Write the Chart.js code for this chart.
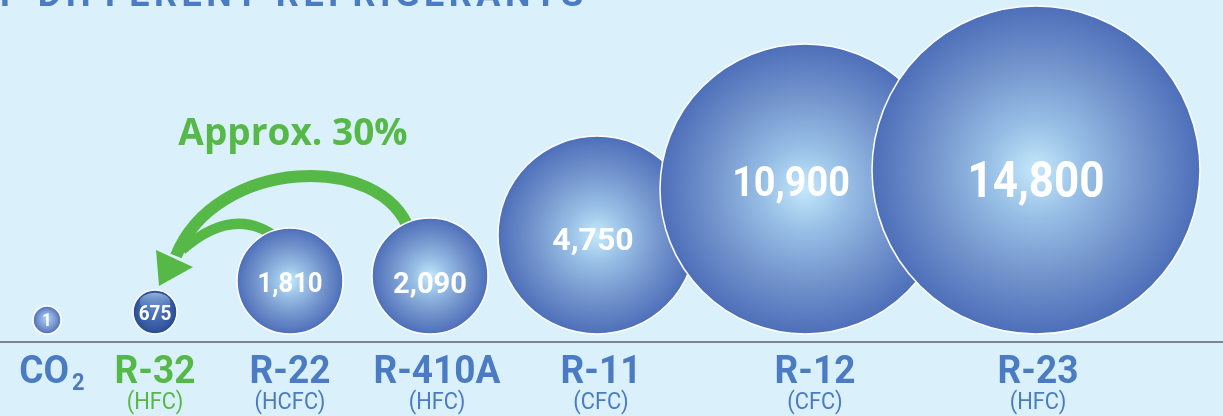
<!DOCTYPE html>
<html>
<head>
<meta charset="utf-8">
<script src="https://cdn.jsdelivr.net/npm/chart.js@4.4.1/dist/chart.umd.min.js"></script>
<style>
  html, body { margin: 0; padding: 0; background: #daf0fb; }
  #wrap { width: 1223px; height: 416px; position: relative; }
</style>
</head>
<body>
<div id="wrap"><canvas id="gwpChart"></canvas></div>
<script>
// Données
const refrigerants = ['CO₂', 'R-32', 'R-22', 'R-410A', 'R-11', 'R-12', 'R-23'];
const families = ['', '(HFC)', '(HCFC)', '(HFC)', '(CFC)', '(CFC)', '(HFC)'];
const gwp = [1, 675, 1810, 2090, 4750, 10900, 14800];
// taille des bulles (px) et place sur l'axe horizontal
const bubbleRadius = [14, 22, 53, 58, 99, 145, 164];
const slot = [47, 155, 290, 430, 597, 805, 1036];

// mise en forme des textes
const valueFontSize = [18, 21, 27, 30, 32, 42, 50];
const valueScaleX = [0.9, 0.9, 0.95, 0.97, 1.0, 0.9, 0.88];
const valueShift = [[0, 0], [0, 0], [0, 1], [0, 6], [-4, 3], [-14, -8], [0, 9]];
const nameShift = [0, 0, 0, 7, 4, 10, 2];

const BLUE = '#4a7bc3';
const GREEN = '#56b947';
const baseY = 334;

function bubbleFill(context) {
    const chart = context.chart;
    if (!chart.chartArea || context.type !== 'data') return '#5a7dc0';
    const i = context.dataIndex;
    const x = chart.scales.x.getPixelForValue(slot[i]);
    const y = chart.scales.y.getPixelForValue(bubbleRadius[i]);
    const r = bubbleRadius[i];
    const c = chart.ctx;
    let g;
    if (i === 1) {
        g = c.createRadialGradient(x, y - r * 0.2, 0, x, y, r);
        g.addColorStop(0, '#5a80c4');
        g.addColorStop(0.7, '#3a5ea6');
        g.addColorStop(1, '#284a90');
    } else if (i === 0) {
        g = c.createRadialGradient(x, y - r * 0.15, 0, x, y, r);
        g.addColorStop(0, '#b4d2f0');
        g.addColorStop(0.6, '#7b9ad4');
        g.addColorStop(1, '#4e6cb6');
    } else {
        g = c.createRadialGradient(x, y, 0, x, y, r);
        g.addColorStop(0, '#c4e8fb');
        g.addColorStop(0.3, '#96bee5');
        g.addColorStop(0.65, '#7393cc');
        g.addColorStop(1, '#4d6fb9');
    }
    return g;
}

function drawScaled(ctx, text, x, y, sx) {
    ctx.save();
    ctx.translate(x, y);
    ctx.scale(sx, 1);
    ctx.fillText(text, 0, 0);
    ctx.restore();
}

// Titre coupé en haut + flèche verte
const decorPlugin = {
    id: 'decor',
    beforeDatasetsDraw(chart) {
        const ctx = chart.ctx;
        ctx.save();
        // titre
        ctx.fillStyle = BLUE;
        ctx.font = 'bold 36px Roboto';
        ctx.letterSpacing = '4.5px';
        ctx.textAlign = 'left';
        ctx.textBaseline = 'alphabetic';
        const pre = ctx.measureText('O').width;
        ctx.fillText('OF DIFFERENT REFRIGERANTS', -pre, 6);
        ctx.letterSpacing = '0px';

        // ligne de base
        ctx.strokeStyle = '#7b878c';
        ctx.lineWidth = 2;
        ctx.beginPath();
        ctx.moveTo(0, 342);
        ctx.lineTo(chart.width, 342);
        ctx.stroke();

        // flèches
        ctx.strokeStyle = GREEN;
        ctx.fillStyle = GREEN;
        ctx.lineCap = 'butt';
        ctx.lineWidth = 12;
        ctx.beginPath();
        ctx.moveTo(410, 232);
        ctx.bezierCurveTo(382, 150, 215, 158, 176, 256);
        ctx.stroke();
        ctx.lineWidth = 10;
        ctx.beginPath();
        ctx.moveTo(280, 240);
        ctx.quadraticCurveTo(235, 203, 182, 250);
        ctx.stroke();
        ctx.beginPath();
        ctx.moveTo(156, 250);
        ctx.lineTo(193, 267);
        ctx.lineTo(159, 286);
        ctx.closePath();
        ctx.fill();

        ctx.font = 'bold 37px "Open Sans"';
        ctx.textAlign = 'center';
        ctx.fillText('Approx. 30%', 293, 145);
        ctx.restore();
    },
    afterDatasetsDraw(chart) {
        const ctx = chart.ctx;
        const meta = chart.getDatasetMeta(0);
        ctx.save();
        ctx.textAlign = 'center';
        ctx.textBaseline = 'alphabetic';
        meta.data.forEach((el, i) => {
            // reflet sur la petite bulle
            if (i === 1) {
                const r = bubbleRadius[i];
                const g = ctx.createLinearGradient(0, el.y - r, 0, el.y);
                g.addColorStop(0, 'rgba(190,215,245,0.85)');
                g.addColorStop(1, 'rgba(120,160,220,0)');
                ctx.fillStyle = g;
                ctx.beginPath();
                ctx.ellipse(el.x, el.y - r * 0.45, r * 0.7, r * 0.42, 0, 0, Math.PI * 2);
                ctx.fill();
            }
            const fs = valueFontSize[i];
            ctx.fillStyle = '#ffffff';
            ctx.font = `bold ${fs}px Roboto`;
            drawScaled(ctx, gwp[i].toLocaleString('en-US'),
                el.x + valueShift[i][0], el.y + fs * 0.36 + valueShift[i][1], valueScaleX[i]);

            // noms sous l'axe
            const cx = el.x + nameShift[i];
            ctx.fillStyle = i === 1 ? GREEN : BLUE;
            const name = refrigerants[i];
            if (name.includes('₂')) {
                ctx.font = 'bold 39px Roboto';
                ctx.textAlign = 'left';
                const base = name.replace('₂', '');
                const w1 = ctx.measureText(base).width * 0.95;
                ctx.font = 'bold 23px Roboto';
                const w2 = ctx.measureText('2').width * 0.95;
                const start = cx - (w1 + w2 + 3) / 2 + 5;
                ctx.font = 'bold 39px Roboto';
                ctx.save(); ctx.translate(start, 383); ctx.scale(0.95, 1); ctx.fillText(base, 0, 0); ctx.restore();
                ctx.font = 'bold 23px Roboto';
                ctx.save(); ctx.translate(start + w1 + 3, 390); ctx.scale(0.95, 1); ctx.fillText('2', 0, 0); ctx.restore();
                ctx.textAlign = 'center';
            } else {
                ctx.font = 'bold 39px Roboto';
                drawScaled(ctx, name, cx, 383, 0.95);
            }
            if (families[i]) {
                ctx.font = '23px Roboto';
                drawScaled(ctx, families[i], cx, 409, 0.95);
            }
        });
        ctx.restore();
    }
};

const gwpChart = new Chart(document.getElementById('gwpChart'), {
    type: 'bubble',
    data: {
        datasets: [{
            label: 'GWP',
            data: gwp.map((v, i) => ({ x: slot[i], y: bubbleRadius[i], r: bubbleRadius[i] })),
            backgroundColor: bubbleFill,
            borderColor: '#ffffff',
            borderWidth: 1.5,
            hoverRadius: 0,
            clip: false
        }]
    },
    options: {
        responsive: true,
        maintainAspectRatio: false,
        animation: false,
        events: [],
        layout: { autoPadding: false, padding: { left: 0, right: 0, top: 0, bottom: 416 - baseY } },
        scales: {
            x: { type: 'linear', min: 0, max: 1223, display: false },
            y: { type: 'linear', min: 0, max: baseY, display: false }
        },
        plugins: {
            legend: { display: false },
            tooltip: { enabled: false }
        }
    },
    plugins: [decorPlugin]
});
</script>
</body>
</html>
